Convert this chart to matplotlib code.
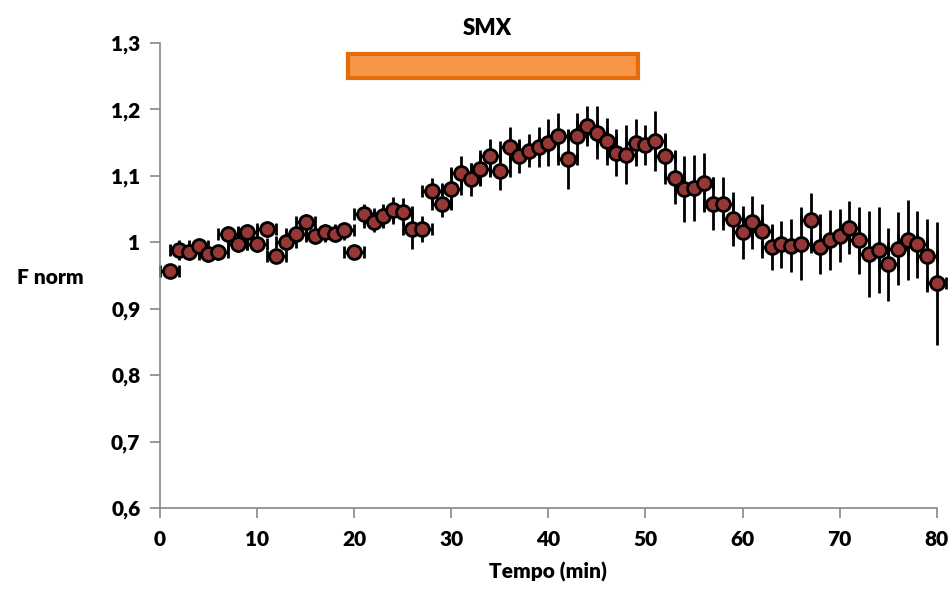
import numpy as np
import matplotlib
matplotlib.use('Agg')
from matplotlib import pyplot as plt
from matplotlib.patches import Rectangle

plt.rcParams['font.family'] = ['Lato', 'DejaVu Sans']
plt.rcParams['font.weight'] = 'heavy'
plt.rcParams['axes.labelweight'] = 'heavy'

# Tempo (min) e valori normalizzati
tempo = list(range(1, 81))
f_norm = [0.957, 0.988, 0.985, 0.994, 0.982, 0.985, 1.013, 0.997, 1.015, 0.997,
          1.020, 0.980, 1.000, 1.012, 1.030, 1.010, 1.015, 1.012, 1.018, 0.986,
          1.043, 1.030, 1.040, 1.048, 1.046, 1.020, 1.020, 1.077, 1.058, 1.080,
          1.105, 1.095, 1.110, 1.130, 1.108, 1.143, 1.130, 1.138, 1.143, 1.150,
          1.160, 1.125, 1.160, 1.175, 1.165, 1.152, 1.135, 1.132, 1.150, 1.147,
          1.153, 1.130, 1.097, 1.080, 1.082, 1.090, 1.058, 1.058, 1.035, 1.015,
          1.030, 1.017, 0.993, 0.997, 0.995, 0.998, 1.034, 0.993, 1.003, 1.010,
          1.022, 1.003, 0.982, 0.988, 0.967, 0.990, 1.003, 0.997, 0.980, 0.938]
err_y = [0.005, 0.015, 0.012, 0.012, 0.012, 0.010, 0.012, 0.012, 0.012, 0.012,
         0.012, 0.010, 0.012, 0.012, 0.012, 0.012, 0.012, 0.012, 0.012, 0.008,
         0.015, 0.015, 0.015, 0.020, 0.020, 0.030, 0.020, 0.020, 0.020, 0.030,
         0.025, 0.025, 0.025, 0.025, 0.030, 0.030, 0.025, 0.025, 0.030, 0.035,
         0.035, 0.045, 0.035, 0.030, 0.040, 0.035, 0.035, 0.045, 0.035, 0.030,
         0.045, 0.035, 0.040, 0.050, 0.050, 0.045, 0.040, 0.040, 0.040, 0.040,
         0.040, 0.040, 0.035, 0.035, 0.040, 0.055, 0.040, 0.040, 0.045, 0.040,
         0.040, 0.050, 0.065, 0.065, 0.055, 0.055, 0.060, 0.050, 0.055, 0.092]
err_x = [1.0] * len(tempo)

fig = plt.figure(figsize=(9.52, 5.97), dpi=100)
ax = fig.add_axes([0.168, 0.149, 0.816, 0.779])

ex = ax.errorbar(tempo, f_norm, xerr=err_x, fmt='none', ecolor='black',
                 elinewidth=2, capsize=4, capthick=2, zorder=2)
ey = ax.errorbar(tempo, f_norm, yerr=err_y, fmt='none', ecolor='black',
                 elinewidth=2, capsize=0, zorder=2)
for art in list(ex.lines[1]) + list(ex.lines[2]) + list(ey.lines[2]):
    art.set_clip_on(False)
ax.plot(tempo, f_norm, 'o', color='#953735', markersize=10,
        markeredgecolor='black', markeredgewidth=2, zorder=3, clip_on=False)

# barra SMX
ax.add_patch(Rectangle((19.4, 1.247), 29.8, 0.036, facecolor='#F79646',
                       edgecolor='#E46C0A', linewidth=3, clip_on=False, zorder=4))
ax.text(33.7, 1.322, 'SMX', ha='center', va='center', fontsize=16)

ax.set_xlim(0, 80)
ax.set_ylim(0.6, 1.3)
ax.set_xticks(range(0, 81, 10))
ax.set_yticks(np.arange(0.6, 1.31, 0.1))
ax.set_yticklabels(['0,6', '0,7', '0,8', '0,9', '1', '1,1', '1,2', '1,3'])

for s in ['top', 'right']:
    ax.spines[s].set_visible(False)
for s in ['left', 'bottom']:
    ax.spines[s].set_color('#888888')
    ax.spines[s].set_linewidth(1.2)
ax.tick_params(axis='both', colors='#888888', labelcolor='black',
               labelsize=15, width=1.2, length=7, direction='out')
ax.tick_params(axis='x', pad=9)
ax.tick_params(axis='y', pad=7)

ax.set_xlabel('Tempo (min)', fontsize=15, fontweight='heavy', labelpad=9)
fig.text(0.053, 0.535, 'F norm', ha='center', va='center', fontsize=15)

plt.savefig('out.png', dpi=100)
